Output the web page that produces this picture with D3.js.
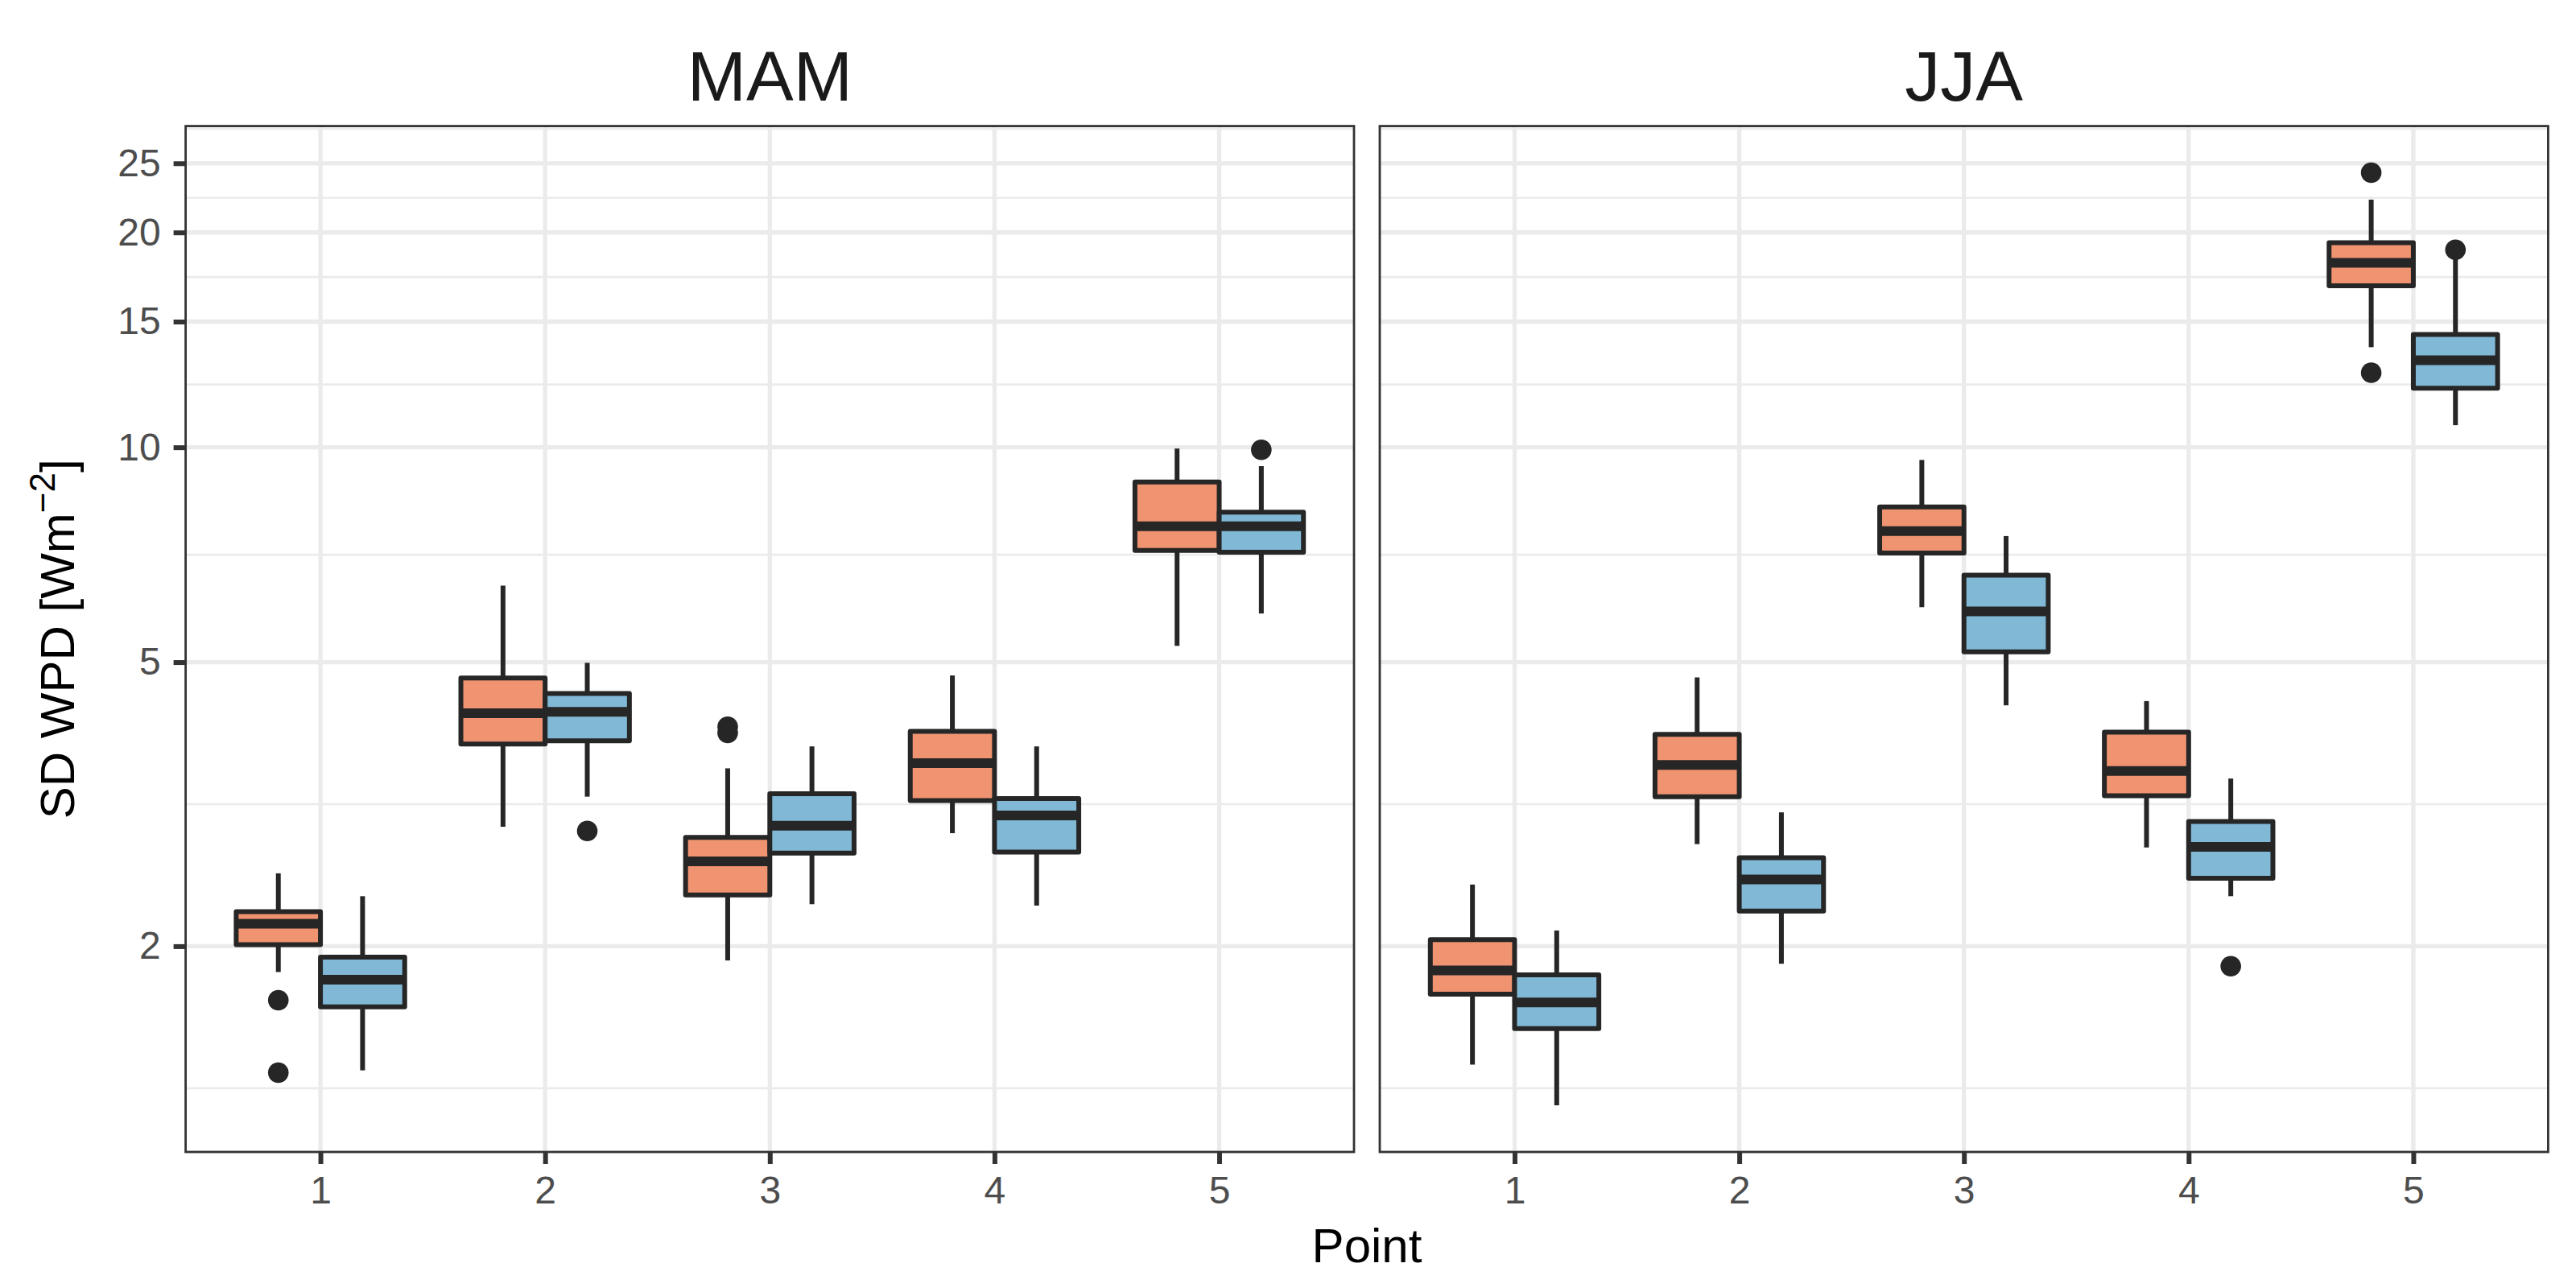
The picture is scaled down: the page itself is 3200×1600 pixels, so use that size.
<!DOCTYPE html>
<html>
<head>
<meta charset="utf-8">
<script src="https://cdn.jsdelivr.net/npm/d3@7"></script>
<style>
  body { margin: 0; background: #fff; }
  text { font-family: "Liberation Sans", Arial, Helvetica, sans-serif; }
</style>
</head>
<body>
<svg id="chart" width="3200" height="1600"></svg>
<script>
// categories
const points = ['1', '2', '3', '4', '5']
const seasons = ['MAM', 'JJA']

// box stats per point: [lower whisker, q1, median, q3, upper whisker]
const mamOrange = [
  [1.84, 2.01, 2.15, 2.235, 2.53],
  [2.94, 3.84, 4.24, 4.75, 6.40],
  [1.91, 2.36, 2.63, 2.84, 3.55],
  [2.88, 3.20, 3.61, 4.00, 4.79],
  [5.27, 7.17, 7.75, 8.94, 9.96],
]
const mamOrangeOutliers = [[1.68, 1.33], [], [4.06, 3.98], [], []]

const mamBlue = [
  [1.34, 1.645, 1.795, 1.93, 2.35],
  [3.24, 3.88, 4.26, 4.52, 4.99],
  [2.29, 2.70, 2.95, 3.27, 3.81],
  [2.28, 2.71, 3.05, 3.22, 3.81],
  [5.85, 7.13, 7.75, 8.11, 9.41],
]
const mamBlueOutliers = [[], [2.90], [], [], [9.92]]

const jjaOrange = [
  [1.365, 1.713, 1.85, 2.043, 2.44],
  [2.78, 3.24, 3.59, 3.96, 4.76],
  [5.97, 7.11, 7.63, 8.25, 9.60],
  [2.75, 3.25, 3.52, 3.99, 4.41],
  [13.81, 16.84, 18.13, 19.35, 22.23],
]
const jjaOrangeOutliers = [[], [], [], [], [24.25, 12.72]]

const jjaBlue = [
  [1.197, 1.533, 1.668, 1.823, 2.104],
  [1.89, 2.24, 2.48, 2.66, 3.08],
  [4.35, 5.17, 5.89, 6.62, 7.51],
  [2.35, 2.49, 2.755, 2.99, 3.435],
  [10.74, 12.10, 13.24, 14.39, 18.5],
]
const jjaBlueOutliers = [[], [], [], [1.875], [18.91]]

const yTicks = [2, 5, 10, 15, 20, 25]

// ---------------------------------------------------------------

const fills = ['#EF9370', '#80B8D6']
const ink = '#262626'
const grid = '#EBEBEB'

const panelData = [
  { name: seasons[0], stats: [mamOrange, mamBlue], outliers: [mamOrangeOutliers, mamBlueOutliers] },
  { name: seasons[1], stats: [jjaOrange, jjaBlue], outliers: [jjaOrangeOutliers, jjaBlueOutliers] },
]

const margins = { top: 156.6, left: 230.6, bottom: 1600 - 1431 }
const panelWidth = 1451.4
const panelGap = 32
const height = 1600 - margins.top - margins.bottom

const svg = d3.select('#chart')

// y: log scale, limits = data range expanded 5% in log space (ggplot style)
const allValues = panelData.flatMap((p) => [
  ...p.stats.flat(2),
  ...p.outliers.flat(2),
])
const logMin = Math.log(d3.min(allValues))
const logMax = Math.log(d3.max(allValues))
const pad = (logMax - logMin) * 0.05
const y = d3.scaleLog()
  .domain([Math.exp(logMin - pad), Math.exp(logMax + pad)])
  .range([margins.top + height, margins.top])

// minor breaks: midpoints between majors in log space, extended one step each side
const logTicks = yTicks.map(Math.log)
const minorTicks = []
for (let i = -1; i < logTicks.length; i++) {
  const a = i < 0 ? logTicks[0] - (logTicks[1] - logTicks[0]) : logTicks[i]
  const b = i + 1 >= logTicks.length
    ? logTicks[i] + (logTicks[i] - logTicks[i - 1])
    : logTicks[i + 1]
  minorTicks.push(Math.exp((a + b) / 2))
}
const yDom = y.domain()
const minorIn = minorTicks.filter((v) => v > yDom[0] && v < yDom[1])

panelData.forEach((panel, pi) => {
  const left = margins.left + pi * (panelWidth + panelGap)
  const x = d3.scaleLinear().domain([0.4, 5.6]).range([left, left + panelWidth])
  const top = margins.top
  const bottom = margins.top + height

  const g = svg.append('g').attr('class', `panel panel-${panel.name}`)

  // grid
  g.selectAll('.minor')
    .data(minorIn)
    .enter()
    .append('line')
    .attr('x1', left).attr('x2', left + panelWidth)
    .attr('y1', (d) => y(d)).attr('y2', (d) => y(d))
    .attr('stroke', grid).attr('stroke-width', 2.7)
  g.selectAll('.major-y')
    .data(yTicks)
    .enter()
    .append('line')
    .attr('x1', left).attr('x2', left + panelWidth)
    .attr('y1', (d) => y(d)).attr('y2', (d) => y(d))
    .attr('stroke', grid).attr('stroke-width', 5.3)
  g.selectAll('.major-x')
    .data(points)
    .enter()
    .append('line')
    .attr('x1', (d, i) => x(i + 1)).attr('x2', (d, i) => x(i + 1))
    .attr('y1', top).attr('y2', bottom)
    .attr('stroke', grid).attr('stroke-width', 5.3)

  // boxes
  const boxW = 0.375
  panel.stats.forEach((series, gi) => {
    series.forEach((s, i) => {
      const x0 = i + 1 - boxW + gi * boxW
      const cx = x((x0 + x0 + boxW) / 2)
      const bg = g.append('g').attr('class', 'box')
      bg.append('line')
        .attr('x1', cx).attr('x2', cx)
        .attr('y1', y(s[3])).attr('y2', y(s[4]))
        .attr('stroke', ink).attr('stroke-width', 6)
      bg.append('line')
        .attr('x1', cx).attr('x2', cx)
        .attr('y1', y(s[1])).attr('y2', y(s[0]))
        .attr('stroke', ink).attr('stroke-width', 6)
      bg.append('rect')
        .attr('x', x(x0))
        .attr('y', y(s[3]))
        .attr('width', x(x0 + boxW) - x(x0))
        .attr('height', y(s[1]) - y(s[3]))
        .attr('fill', fills[gi])
        .attr('stroke', ink).attr('stroke-width', 6)
        .attr('stroke-linejoin', 'round')
      bg.append('line')
        .attr('x1', x(x0)).attr('x2', x(x0 + boxW))
        .attr('y1', y(s[2])).attr('y2', y(s[2]))
        .attr('stroke', ink).attr('stroke-width', 12)
      bg.selectAll('circle')
        .data(panel.outliers[gi][i])
        .enter()
        .append('circle')
        .attr('cx', cx)
        .attr('cy', (d) => y(d))
        .attr('r', 12.8)
        .attr('fill', ink)
    })
  })

  // border
  g.append('rect')
    .attr('x', left).attr('y', top)
    .attr('width', panelWidth).attr('height', height)
    .attr('fill', 'none').attr('stroke', '#333333').attr('stroke-width', 2.8)

  // strip title
  g.append('text')
    .attr('x', left + panelWidth / 2)
    .attr('y', 125)
    .attr('text-anchor', 'middle')
    .attr('font-size', 88)
    .attr('fill', '#1A1A1A')
    .text(panel.name)

  // x axis
  const xAxis = g.append('g')
    .attr('class', 'axis axis--x')
    .attr('transform', `translate(0, ${bottom})`)
    .call(d3.axisBottom(x)
      .tickValues(points.map((d, i) => i + 1))
      .tickFormat((d) => points[d - 1])
      .tickSize(15)
      .tickPadding(15))
  xAxis.select('.domain').remove()
  xAxis.selectAll('line').attr('stroke', '#333333').attr('stroke-width', 6)
  xAxis.selectAll('text')
    .attr('fill', '#4D4D4D')
    .attr('font-size', 48)
    .attr('font-family', '"Liberation Sans", Arial, sans-serif')

  // y axis (first panel only)
  if (pi === 0) {
    const yAxis = g.append('g')
      .attr('class', 'axis axis--y')
      .attr('transform', `translate(${left}, 0)`)
      .call(d3.axisLeft(y)
        .tickValues(yTicks)
        .tickFormat(d3.format('d'))
        .tickSize(15)
        .tickPadding(16))
    yAxis.select('.domain').remove()
    yAxis.selectAll('line').attr('stroke', '#333333').attr('stroke-width', 6)
    yAxis.selectAll('text')
      .attr('fill', '#4D4D4D')
      .attr('font-size', 48)
      .attr('font-family', '"Liberation Sans", Arial, sans-serif')
  }
})

// axis titles
const totalLeft = margins.left
const totalRight = margins.left + 2 * panelWidth + panelGap
svg.append('text')
  .attr('x', (totalLeft + totalRight) / 2)
  .attr('y', 1568)
  .attr('text-anchor', 'middle')
  .attr('font-size', 60)
  .attr('fill', '#000')
  .text('Point')

const yTitle = svg.append('text')
  .attr('transform', `translate(92, ${margins.top + height / 2}) rotate(-90)`)
  .attr('text-anchor', 'middle')
  .attr('font-size', 60)
  .attr('fill', '#000')
yTitle.append('tspan').text('SD WPD [Wm')
yTitle.append('tspan').attr('dy', -24).attr('font-size', 44).text('\u22122')
yTitle.append('tspan').attr('dy', 24).text(']')
</script>
</body>
</html>
